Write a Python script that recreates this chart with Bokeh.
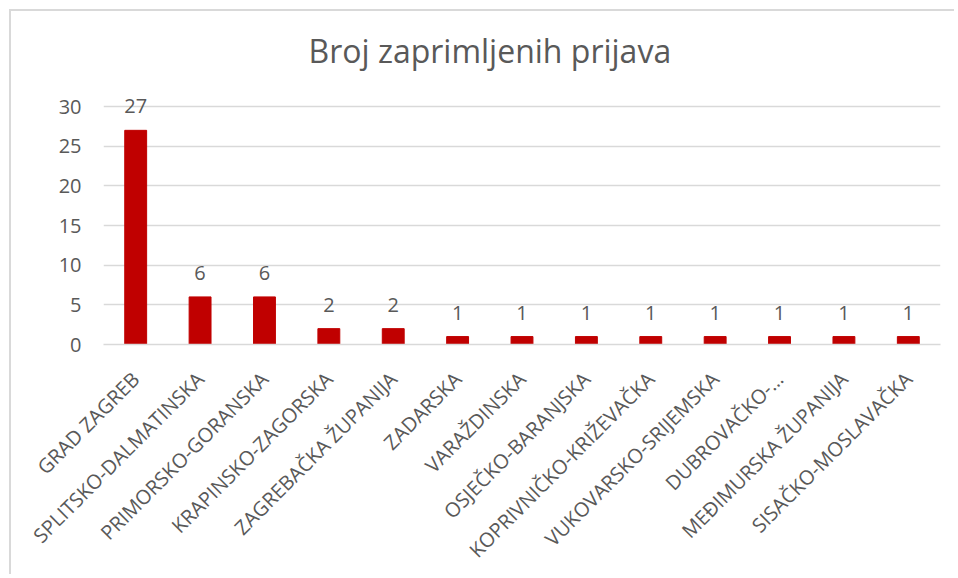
from math import pi
from bokeh.plotting import figure
from bokeh.models import ColumnDataSource, LabelSet, FixedTicker, Title
from bokeh.core.properties import value
from bokeh.embed import file_html
from bokeh.resources import INLINE

categories = [
    "GRAD ZAGREB", "SPLITSKO-DALMATINSKA", "PRIMORSKO-GORANSKA",
    "KRAPINSKO-ZAGORSKA", "ZAGREBAČKA ŽUPANIJA", "ZADARSKA", "VARAŽDINSKA",
    "OSJEČKO-BARANJSKA", "KOPRIVNIČKO-KRIŽEVAČKA", "VUKOVARSKO-SRIJEMSKA",
    "DUBROVAČKO-…", "MEĐIMURSKA ŽUPANIJA", "SISAČKO-MOSLAVAČKA",
]
values = [27, 6, 6, 2, 2, 1, 1, 1, 1, 1, 1, 1, 1]
y_ticks = [0, 5, 10, 15, 20, 25, 30]
title_text = "Broj zaprimljenih prijava"

FONT = "Open Sans"
TXT = "#595959"
GRID = "#D9D9D9"
BAR = "#C00000"

source = ColumnDataSource(dict(cat=categories, val=values, lab=[str(v) for v in values]))

p = figure(
    x_range=categories, y_range=(0, 32.4),
    width=945, height=565,
    output_backend="svg", toolbar_location=None,
    min_border_left=92, min_border_right=16,
    min_border_top=10, min_border_bottom=232,
)
p.x_range.range_padding = 0
p.title = Title(text=title_text, text_font=FONT, text_font_size="32px",
                text_color=TXT, text_font_style="normal", align="left",
                offset=205, standoff=31)

p.vbar(x="cat", top="val", width=0.34, source=source, color=BAR)

labels = LabelSet(x="cat", y="val", text="lab", source=source,
                  text_align="center", text_baseline="alphabetic", y_offset=17,
                  text_font=value(FONT), text_font_size=value("20px"),
                  text_color=TXT)
p.add_layout(labels)

p.outline_line_color = None
p.background_fill_color = "white"
p.border_fill_color = "white"

p.xgrid.grid_line_color = None
p.ygrid.grid_line_color = GRID
p.ygrid.grid_line_width = 1.5

p.yaxis.ticker = FixedTicker(ticks=y_ticks)
p.yaxis.axis_line_color = None
p.yaxis.major_tick_line_color = None
p.yaxis.minor_tick_line_color = None
p.yaxis.major_tick_out = 0
p.yaxis.major_tick_in = 0
p.yaxis.major_label_standoff = 22
p.yaxis.major_label_text_font = FONT
p.yaxis.major_label_text_font_size = "20px"
p.yaxis.major_label_text_color = TXT

p.xaxis.axis_line_color = GRID
p.xaxis.axis_line_width = 1.5
p.xaxis.major_tick_line_color = None
p.xaxis.minor_tick_line_color = None
p.xaxis.major_tick_out = 0
p.xaxis.major_tick_in = 0
p.xaxis.major_label_orientation = pi / 4
p.xaxis.major_label_standoff = 31
p.xaxis.major_label_text_font = FONT
p.xaxis.major_label_text_font_size = "20px"
p.xaxis.major_label_text_color = TXT

p.styles = {"margin-left": "9px", "margin-top": "9px",
            "border-left": "2px solid #D9D9D9", "border-top": "2px solid #D9D9D9"}

open("out.html", "w").write(file_html(p, INLINE))
